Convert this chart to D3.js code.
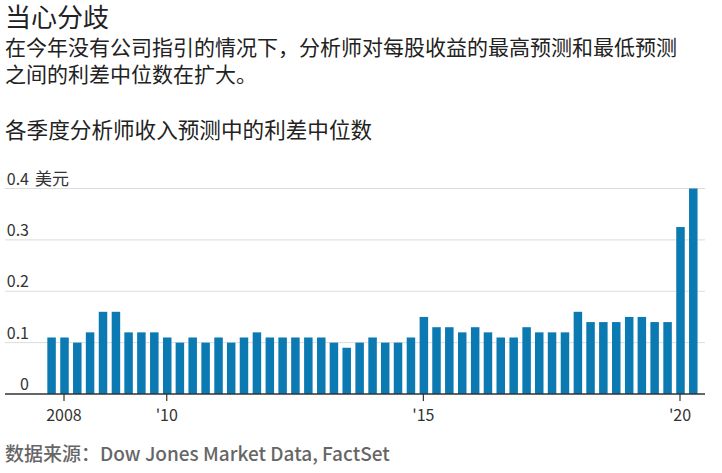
<!DOCTYPE html>
<html>
<head>
<meta charset="utf-8">
<script src="https://cdn.jsdelivr.net/npm/d3@7"></script>
<style>
  body { margin: 0; background: #fff; }
  svg text { font-family: "Noto Sans CJK SC", "Noto Sans", sans-serif; }
</style>
</head>
<body>
<div id="chart"></div>
<script>
// quarterly spread, first bar = 2007 Q4, last bar = 2020 Q2
var firstQuarter = new Date(2007, 9, 1),
	lastQuarter = new Date(2020, 3, 1);
var spreadValues = [
	0.11, 0.11, 0.10, 0.12, 0.16, 0.16, 0.12, 0.12, 0.12, 0.11,
	0.10, 0.11, 0.10, 0.11, 0.10, 0.11, 0.12, 0.11, 0.11, 0.11,
	0.11, 0.11, 0.10, 0.09, 0.10, 0.11, 0.10, 0.10, 0.11, 0.15,
	0.13, 0.13, 0.12, 0.13, 0.12, 0.11, 0.11, 0.13, 0.12, 0.12,
	0.12, 0.16, 0.14, 0.14, 0.14, 0.15, 0.15, 0.14, 0.14, 0.325,
	0.40
];
var yTicks = [0, 0.1, 0.2, 0.3, 0.4],
	yTickLabels = ["0", "0.1", "0.2", "0.3", "0.4"],
	yUnit = "美元";
var xTickYears = [2008, 2010, 2015, 2020],
	xTickLabels = ["2008", "'10", "'15", "'20"];

var titleText = "当心分歧",
	subtitleLines = ["在今年没有公司指引的情况下，分析师对每股收益的最高预测和最低预测", "之间的利差中位数在扩大。"],
	chartTitle = "各季度分析师收入预测中的利差中位数",
	sourceText = "数据来源：Dow Jones Market Data, FactSet";

var width = 722, height = 473,
	barColor = "#0b7ab3";

var quarters = d3.timeMonth.every(3).range(firstQuarter, d3.timeMonth.offset(lastQuarter, 1));
var data = quarters.map(function (d, i) { return { date: d, value: spreadValues[i] }; });

var svg = d3.select("#chart").append("svg")
	.attr("width", width)
	.attr("height", height);

// header texts
svg.append("text")
	.attr("x", 5).attr("y", 27)
	.style("font-size", "26px")
	.style("fill", "#222")
	.text(titleText);

svg.selectAll("text.subtitle")
	.data(subtitleLines)
	.enter()
	.append("text")
	.attr("class", "subtitle")
	.attr("x", 5)
	.attr("y", function (d, i) { return 55 + i * 27; })
	.style("font-size", "21px")
	.style("fill", "#222")
	.text(function (d) { return d; });

svg.append("text")
	.attr("x", 5).attr("y", 138)
	.style("font-size", "21.6px")
	.style("fill", "#222")
	.text(chartTitle);

var x = d3.scaleTime()
	.domain([new Date(2008, 0, 1), new Date(2020, 0, 1)])
	.range([64, 680]);
var y = d3.scaleLinear()
	.domain([0, 0.4])
	.range([394, 188.5]);

var left = 5, right = 705,
	barWidth = 8.5;

// gridlines
svg.selectAll("line.grid")
	.data(yTicks.slice(1))
	.enter()
	.append("line")
	.attr("class", "grid")
	.attr("x1", left).attr("x2", right)
	.attr("y1", function (d) { return y(d); })
	.attr("y2", function (d) { return y(d); })
	.style("stroke", "#dcdcdc")
	.style("stroke-width", 1);

// y labels sit just above their gridline
svg.selectAll("text.ylab")
	.data(yTicks)
	.enter()
	.append("text")
	.attr("class", "ylab")
	.attr("x", 29)
	.attr("y", function (d) { return y(d) - 4; })
	.attr("text-anchor", "end")
	.style("font-size", "16px")
	.style("fill", "#333")
	.text(function (d, i) { return yTickLabels[i]; });

svg.append("text")
	.attr("x", 35)
	.attr("y", y(0.4) - 4)
	.style("font-size", "17px")
	.style("fill", "#333")
	.text(yUnit);

// bars
svg.selectAll("rect.bar")
	.data(data)
	.enter()
	.append("rect")
	.attr("class", "bar")
	.attr("x", function (d) { return x(d.date) - barWidth / 2 + 0.5; })
	.attr("y", function (d) { return y(d.value); })
	.attr("width", barWidth)
	.attr("height", function (d) { return y(0) - y(d.value); })
	.style("fill", barColor);

// baseline + ticks
svg.append("line")
	.attr("x1", left).attr("x2", right)
	.attr("y1", y(0)).attr("y2", y(0))
	.style("stroke", "#333")
	.style("stroke-width", 1.5);

var xTicks = xTickYears.map(function (yr) { return new Date(yr, 0, 1); });

svg.selectAll("line.xtick")
	.data(xTicks)
	.enter()
	.append("line")
	.attr("class", "xtick")
	.attr("x1", function (d) { return x(d); })
	.attr("x2", function (d) { return x(d); })
	.attr("y1", y(0)).attr("y2", y(0) + 7)
	.style("stroke", "#333")
	.style("stroke-width", 1.2);

svg.selectAll("text.xlab")
	.data(xTicks)
	.enter()
	.append("text")
	.attr("class", "xlab")
	.attr("x", function (d) { return x(d); })
	.attr("y", 421)
	.attr("text-anchor", "middle")
	.style("font-size", "16px")
	.style("fill", "#333")
	.text(function (d, i) { return xTickLabels[i]; });

// source
svg.append("text")
	.attr("x", 5).attr("y", 461)
	.style("font-size", "19px")
	.style("font-weight", "500")
	.style("fill", "#666")
	.text(sourceText);
</script>
</body>
</html>
